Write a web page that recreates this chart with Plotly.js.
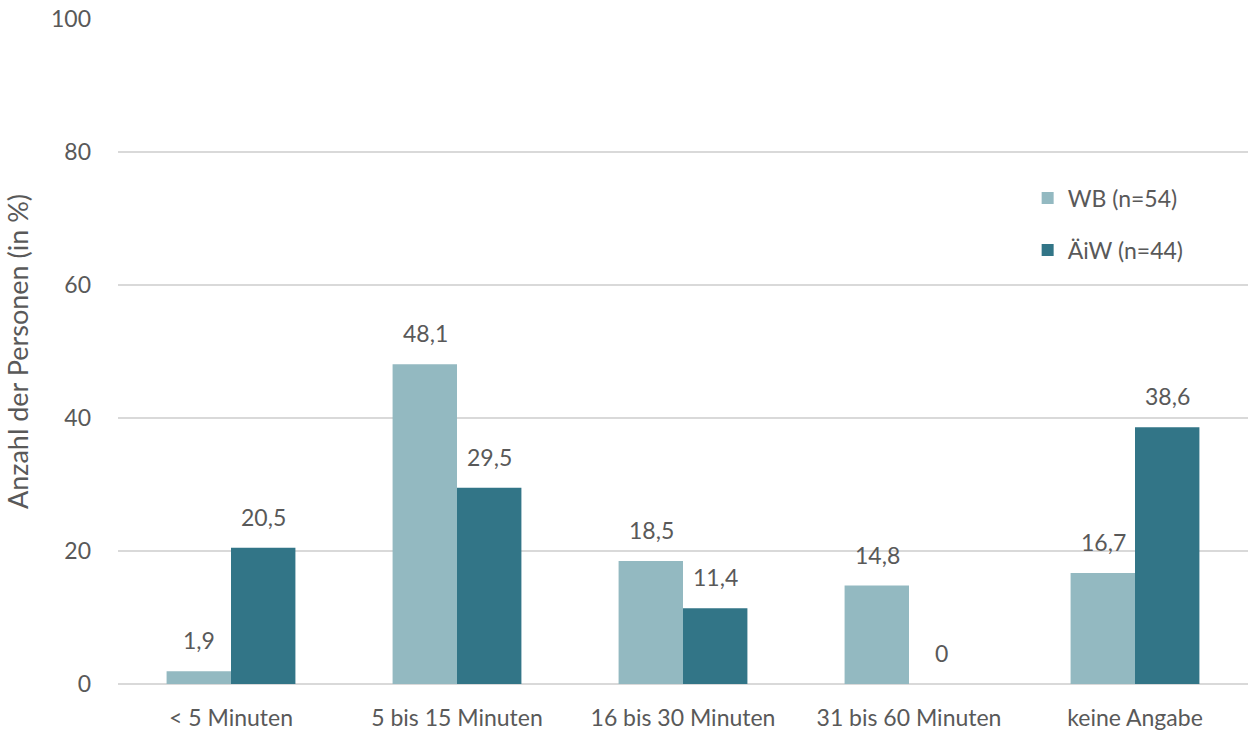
<!DOCTYPE html>
<html><head><meta charset="utf-8">
<script src="https://cdn.plot.ly/plotly-3.0.1.min.js"></script>
<style>html,body{margin:0;padding:0;background:#fff;}#chart{width:1248px;height:733px;}</style>
</head><body><div id="chart"></div>
<script>
const categories = ["< 5 Minuten", "5 bis 15 Minuten", "16 bis 30 Minuten", "31 bis 60 Minuten", "keine Angabe"];
const wbValues = [1.9, 48.1, 18.5, 14.8, 16.7];
const aiwValues = [20.5, 29.5, 11.4, 0, 38.6];
const wbName = "WB (n=54)";
const aiwName = "ÄiW (n=44)";
const fmt = v => String(v).replace(".", ",");

const font = {family: "Lato, 'Open Sans', sans-serif", size: 23, color: "#595959"};
const titleFont = {family: "Lato, 'Open Sans', sans-serif", size: 27, color: "#595959"};

const traces = [
  {type: "bar", x: categories, y: wbValues, name: wbName, marker: {color: "#93b9c1"}, legendgroup: "a", hoverinfo: "skip"},
  {type: "bar", x: categories, y: aiwValues, name: aiwName, marker: {color: "#327587"}, legendgroup: "b", hoverinfo: "skip"}
];

const annotations = [];
categories.forEach((c, i) => {
  annotations.push({x: c, y: wbValues[i], xref: "x", yref: "y", text: fmt(wbValues[i]), showarrow: false, xshift: -32, yanchor: "bottom", yshift: 15, font: font});
  annotations.push({x: c, y: aiwValues[i], xref: "x", yref: "y", text: fmt(aiwValues[i]), showarrow: false, xshift: 32, yanchor: "bottom", yshift: 15, font: font});
});

const layout = {
  width: 1248, height: 733,
  margin: {l: 118, r: 0, t: 19, b: 49},
  paper_bgcolor: "#fff", plot_bgcolor: "#fff",
  font: font,
  barmode: "group", bargap: 0.43, bargroupgap: 0,
  showlegend: true,
  legend: {x: 0.805, y: 0.763, xanchor: "left", yanchor: "top", traceorder: "grouped", tracegroupgap: 19, font: font, bgcolor: "rgba(0,0,0,0)", itemwidth: 30},
  xaxis: {type: "category", showgrid: false, zeroline: false, showline: false, ticks: "", ticklabelstandoff: 18, tickfont: font},
  yaxis: {range: [0, 100], dtick: 20, tick0: 0, showgrid: true, gridcolor: "#d9d9d9", gridwidth: 2, zeroline: true, zerolinecolor: "#d9d9d9", zerolinewidth: 2, showline: false, ticks: "", ticklabelstandoff: 26, tickfont: font,
    title: {text: "Anzahl der Personen (in %)", font: titleFont, standoff: 14}},
  annotations: annotations
};

Plotly.newPlot("chart", traces, layout, {displayModeBar: false, staticPlot: true});
</script></body></html>
